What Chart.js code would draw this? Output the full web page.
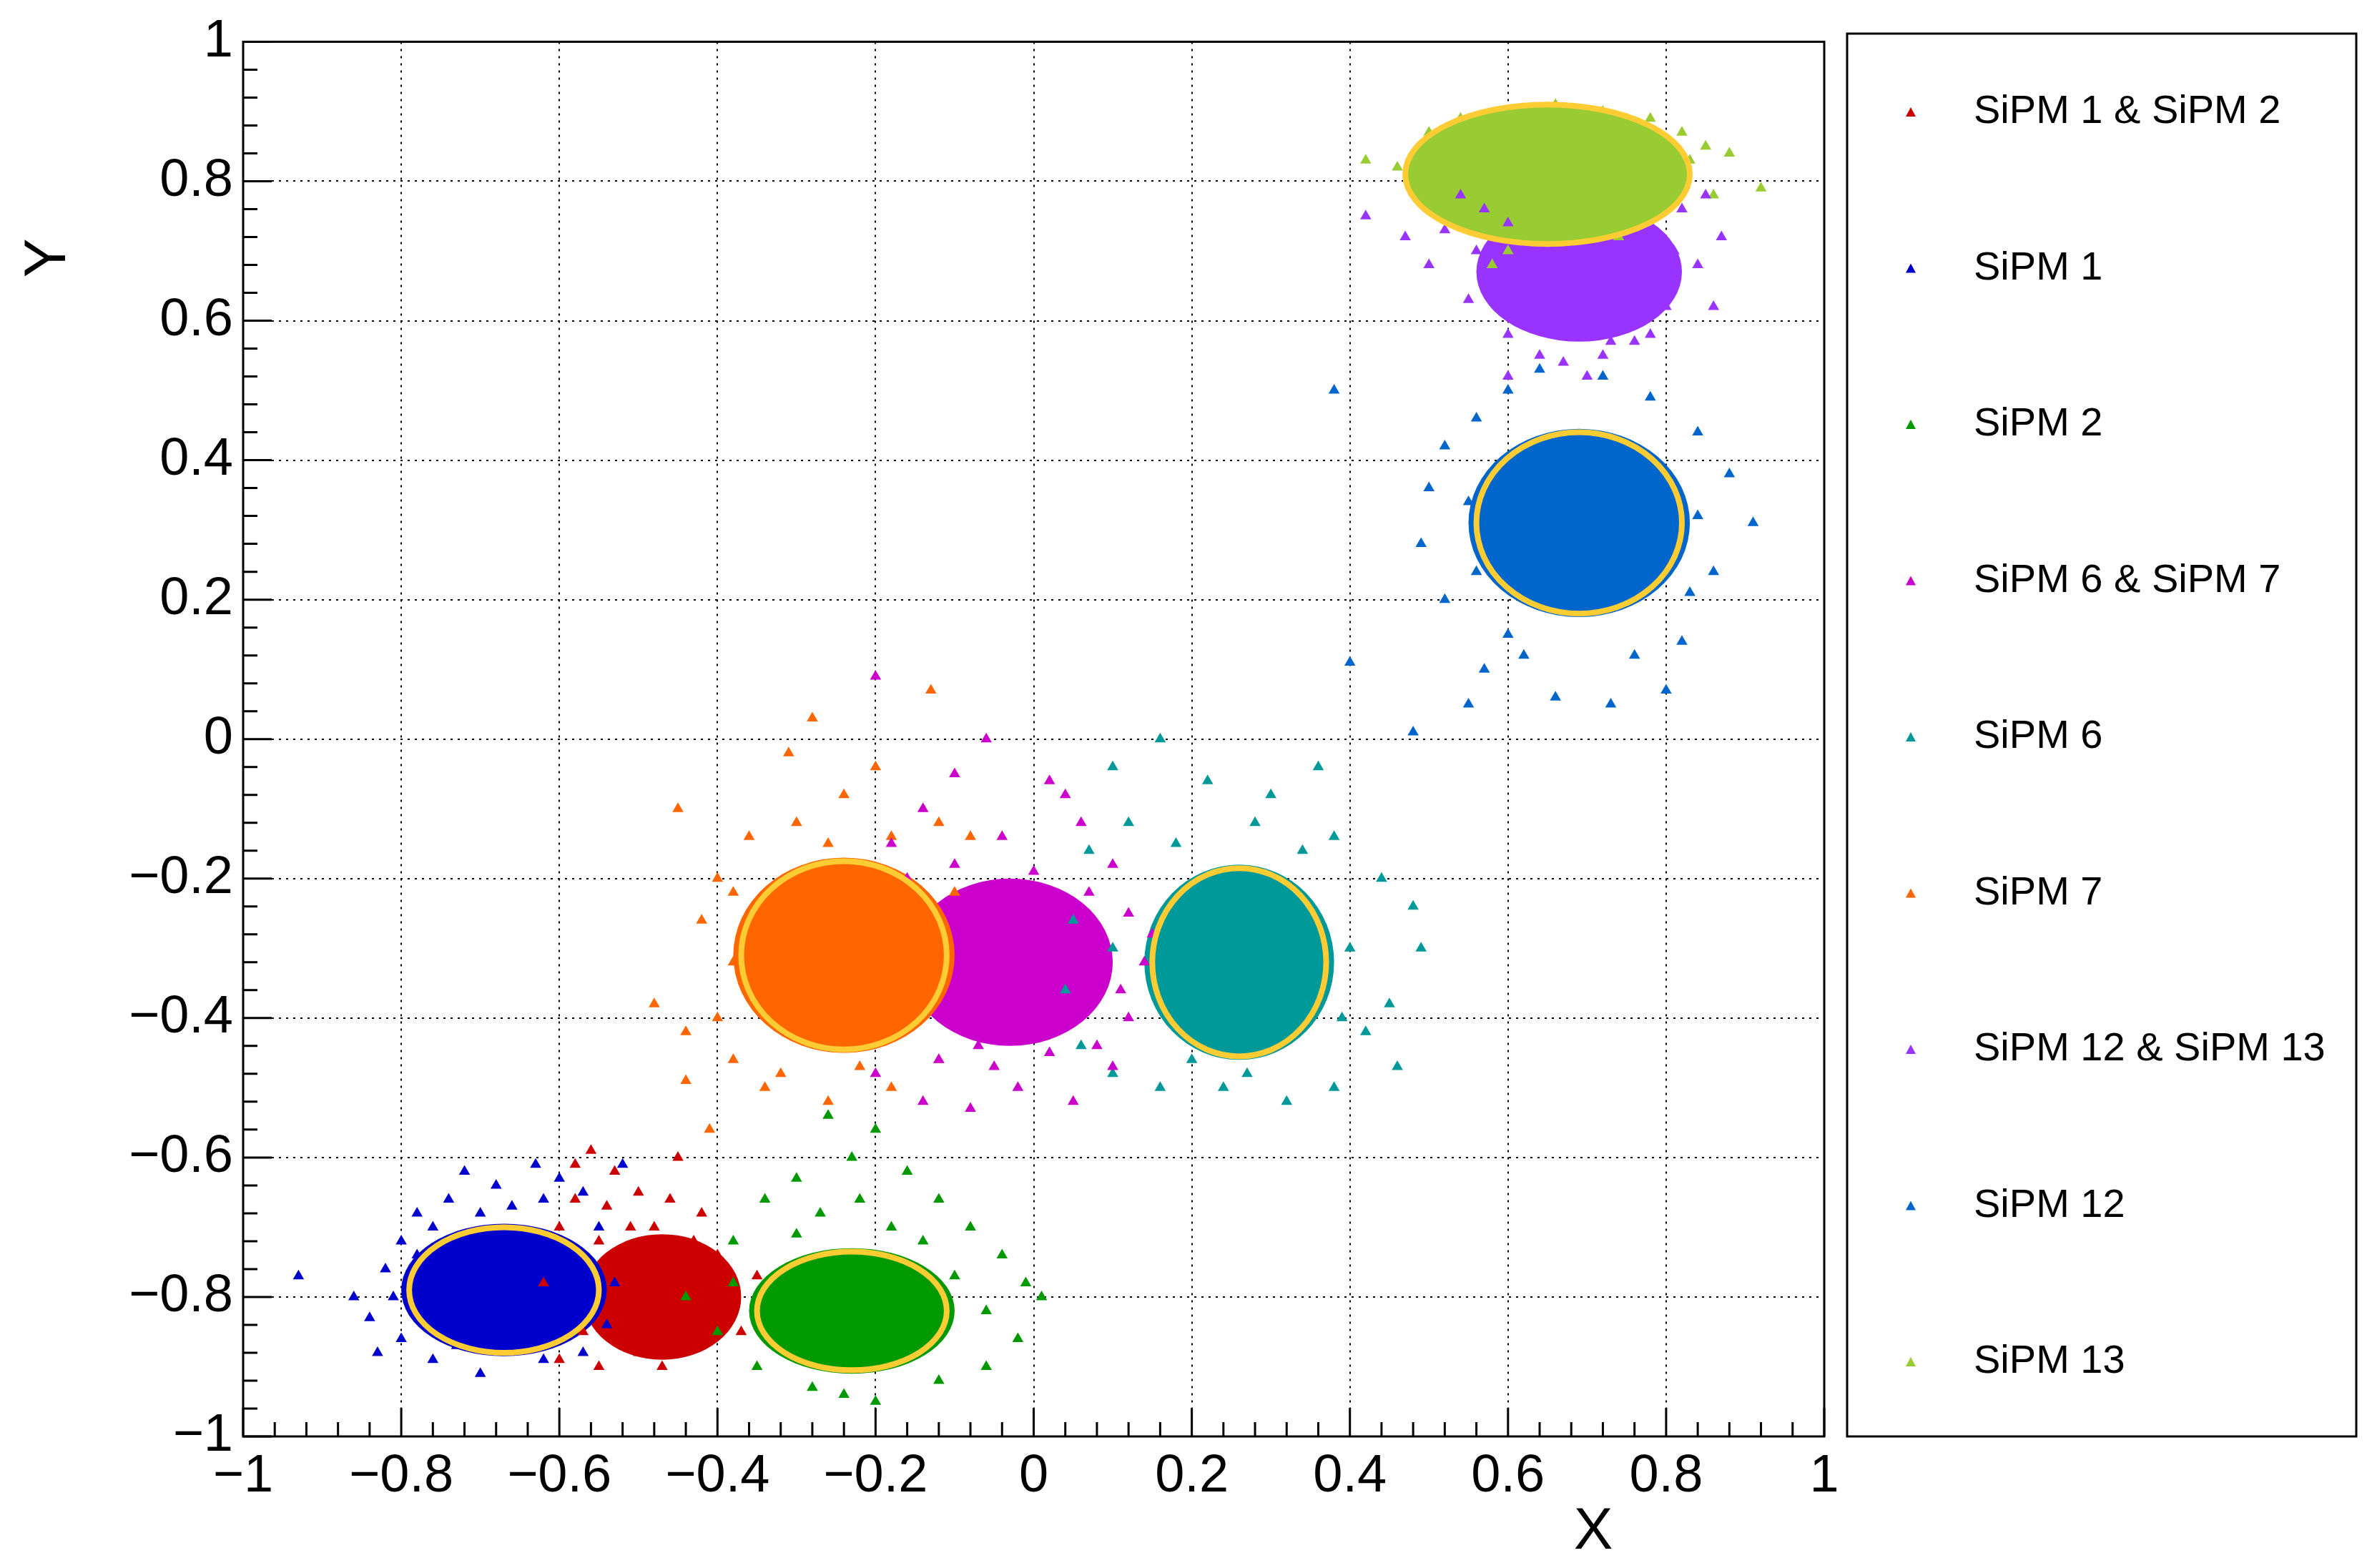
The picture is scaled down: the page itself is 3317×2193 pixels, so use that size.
<!DOCTYPE html>
<html>
<head>
<meta charset="utf-8">
<script src="https://cdn.jsdelivr.net/npm/chart.js@4.4.0/dist/chart.umd.min.js"></script>
<style>
html,body{margin:0;padding:0;background:#fff;}
#wrap{width:3317px;height:2193px;position:relative;}
</style>
</head>
<body>
<div id="wrap"><canvas id="c"></canvas></div>
<script>
const labels = ['SiPM 1 & SiPM 2','SiPM 1','SiPM 2','SiPM 6 & SiPM 7','SiPM 6','SiPM 7','SiPM 12 & SiPM 13','SiPM 12','SiPM 13'];
const colors = ['#cc0000','#0000cc','#009900','#cc00cc','#009999','#ff6600','#9933ff','#0066cc','#99cc33'];

// dense core of each cloud (centre, half widths)
const coreX  = [-0.47,-0.67,-0.23,-0.03, 0.26,-0.24, 0.69, 0.69, 0.65];
const coreY  = [-0.80,-0.79,-0.82,-0.32,-0.32,-0.31, 0.67, 0.31, 0.81];
const coreRX = [ 0.10, 0.13, 0.13, 0.13, 0.12, 0.14, 0.13, 0.14, 0.18];
const coreRY = [ 0.09, 0.095,0.09, 0.12, 0.14, 0.14, 0.10, 0.135,0.10];
// yellow fitted ellipses
const ellX  = [null,-0.67,-0.23,null, 0.26,-0.24,null, 0.69, 0.65];
const ellY  = [null,-0.79,-0.82,null,-0.32,-0.31,null, 0.31, 0.81];
const ellRX = [null, 0.12, 0.12,null, 0.11, 0.13,null, 0.13, 0.18];
const ellRY = [null, 0.09, 0.085,null,0.135,0.135,null,0.13, 0.10];

const pts12 = [[-0.56,-0.59],[-0.53,-0.62],[-0.45,-0.6],[-0.5,-0.65],[-0.58,-0.66],[-0.42,-0.68],[-0.48,-0.7],[-0.55,-0.72],[-0.4,-0.74],[-0.6,-0.7],[-0.44,-0.76],[-0.52,-0.76],[-0.38,-0.8],[-0.57,-0.85],[-0.5,-0.88],[-0.45,-0.87],[-0.6,-0.89],[-0.41,-0.86],[-0.55,-0.9],[-0.47,-0.9],[-0.39,-0.83],[-0.62,-0.78],[-0.35,-0.77],[-0.43,-0.72],[-0.58,-0.61],[-0.54,-0.67],[-0.46,-0.66],[-0.51,-0.7],[-0.4,-0.78],[-0.37,-0.85]];
const pts1 = [[-0.93,-0.77],[-0.86,-0.8],[-0.84,-0.83],[-0.82,-0.76],[-0.8,-0.72],[-0.78,-0.68],[-0.74,-0.66],[-0.72,-0.62],[-0.68,-0.64],[-0.63,-0.61],[-0.6,-0.63],[-0.57,-0.65],[-0.55,-0.7],[-0.53,-0.78],[-0.54,-0.84],[-0.57,-0.88],[-0.62,-0.89],[-0.7,-0.91],[-0.76,-0.89],[-0.8,-0.86],[-0.83,-0.88],[-0.66,-0.67],[-0.52,-0.61],[-0.78,-0.74],[-0.59,-0.82],[-0.76,-0.7],[-0.7,-0.68],[-0.62,-0.66],[-0.81,-0.8],[-0.73,-0.87]];
const pts2 = [[-0.26,-0.54],[-0.2,-0.56],[-0.23,-0.6],[-0.3,-0.63],[-0.16,-0.62],[-0.12,-0.66],[-0.34,-0.66],[-0.38,-0.72],[-0.08,-0.7],[-0.04,-0.74],[-0.01,-0.78],[-0.02,-0.86],[-0.06,-0.9],[-0.12,-0.92],[-0.2,-0.95],[-0.28,-0.93],[-0.35,-0.9],[-0.4,-0.85],[-0.44,-0.8],[-0.38,-0.78],[-0.27,-0.68],[-0.18,-0.7],[-0.1,-0.77],[0.01,-0.8],[-0.24,-0.94],[-0.22,-0.66],[-0.3,-0.71],[-0.14,-0.72],[-0.06,-0.82],[-0.32,-0.87]];
const pts67 = [[-0.2,0.09],[-0.06,0.0],[-0.1,-0.05],[0.02,-0.06],[-0.14,-0.1],[0.06,-0.12],[-0.18,-0.15],[0.1,-0.18],[0.12,-0.25],[0.14,-0.32],[0.12,-0.4],[0.1,-0.47],[0.05,-0.52],[-0.02,-0.5],[-0.08,-0.53],[-0.14,-0.52],[-0.2,-0.48],[-0.04,-0.14],[0.08,-0.44],[-0.12,-0.46],[0.02,-0.45],[-0.07,-0.44],[0.15,-0.28],[-0.16,-0.2],[0.04,-0.08],[-0.1,-0.18],[0.0,-0.19],[0.07,-0.22],[-0.05,-0.47],[0.11,-0.36]];
const pts6 = [[0.1,-0.04],[0.16,0.0],[0.22,-0.06],[0.3,-0.08],[0.36,-0.04],[0.38,-0.14],[0.44,-0.2],[0.48,-0.24],[0.49,-0.3],[0.45,-0.38],[0.42,-0.42],[0.46,-0.47],[0.38,-0.5],[0.32,-0.52],[0.24,-0.5],[0.16,-0.5],[0.1,-0.48],[0.06,-0.44],[0.04,-0.36],[0.05,-0.26],[0.07,-0.16],[0.12,-0.12],[0.28,-0.12],[0.4,-0.3],[0.2,-0.46],[0.18,-0.15],[0.34,-0.16],[0.39,-0.4],[0.1,-0.3],[0.27,-0.48]];
const pts7 = [[-0.28,0.03],[-0.31,-0.02],[-0.2,-0.04],[-0.24,-0.08],[-0.13,0.07],[-0.45,-0.1],[-0.36,-0.14],[-0.12,-0.12],[-0.08,-0.14],[-0.4,-0.2],[-0.42,-0.26],[-0.48,-0.38],[-0.44,-0.42],[-0.44,-0.49],[-0.38,-0.46],[-0.32,-0.48],[-0.26,-0.52],[-0.18,-0.5],[-0.12,-0.46],[-0.3,-0.12],[-0.36,-0.36],[-0.1,-0.22],[-0.41,-0.56],[-0.34,-0.5],[-0.38,-0.32],[-0.26,-0.15],[-0.18,-0.14],[-0.38,-0.22],[-0.4,-0.4],[-0.22,-0.47]];
const pts1213 = [[0.54,0.78],[0.57,0.76],[0.6,0.74],[0.52,0.73],[0.56,0.7],[0.58,0.66],[0.62,0.62],[0.6,0.58],[0.64,0.55],[0.67,0.54],[0.72,0.55],[0.76,0.57],[0.8,0.62],[0.84,0.68],[0.87,0.72],[0.82,0.76],[0.78,0.58],[0.7,0.52],[0.66,0.6],[0.86,0.62],[0.63,0.68],[0.75,0.62],[0.6,0.52],[0.55,0.63],[0.81,0.7],[0.42,0.75],[0.47,0.72],[0.5,0.68],[0.85,0.78],[0.73,0.57]];
const pts12b = [[0.38,0.5],[0.4,0.11],[0.48,0.01],[0.55,0.05],[0.57,0.1],[0.6,0.15],[0.52,0.2],[0.49,0.28],[0.5,0.36],[0.52,0.42],[0.56,0.46],[0.6,0.5],[0.64,0.53],[0.72,0.52],[0.78,0.49],[0.84,0.44],[0.88,0.38],[0.91,0.31],[0.86,0.24],[0.82,0.14],[0.8,0.07],[0.73,0.05],[0.66,0.06],[0.58,0.28],[0.84,0.32],[0.55,0.34],[0.56,0.24],[0.62,0.12],[0.76,0.12],[0.83,0.21]];
const pts13 = [[0.42,0.83],[0.46,0.82],[0.5,0.87],[0.54,0.89],[0.6,0.9],[0.66,0.91],[0.72,0.9],[0.78,0.89],[0.82,0.87],[0.85,0.85],[0.88,0.84],[0.92,0.79],[0.86,0.78],[0.52,0.78],[0.56,0.76],[0.58,0.72],[0.6,0.7],[0.7,0.73],[0.76,0.76],[0.64,0.74],[0.48,0.8],[0.8,0.8],[0.68,0.75],[0.62,0.77],[0.74,0.72],[0.56,0.86],[0.7,0.89],[0.83,0.83],[0.5,0.84],[0.58,0.68]];
const points = [pts12, pts1, pts2, pts67, pts6, pts7, pts1213, pts12b, pts13];

const xTicks = [-1,-0.8,-0.6,-0.4,-0.2,0,0.2,0.4,0.6,0.8,1];
const yTicks = xTicks;

const FONT = 'Liberation Sans, Arial, sans-serif';
const fmt = v => { const s = (Math.round(v*10)/10).toString(); return s.startsWith('-') ? '\u2212' + s.slice(1) : s; };

function ellipse(ctx, xs, ys, x, y, rx, ry) {
  const cx = xs.getPixelForValue(x), cy = ys.getPixelForValue(y);
  const px = Math.abs(xs.getPixelForValue(x + rx) - cx);
  const py = Math.abs(ys.getPixelForValue(y + ry) - cy);
  ctx.beginPath();
  ctx.ellipse(cx, cy, px, py, 0, 0, Math.PI * 2);
}

const framePlugin = {
  id: 'frame',
  beforeDatasetsDraw(chart) {
    const ctx = chart.ctx, xs = chart.scales.x, ys = chart.scales.y;
    ctx.save();
    labels.forEach((l, i) => {
      ellipse(ctx, xs, ys, coreX[i], coreY[i], coreRX[i], coreRY[i]);
      ctx.fillStyle = colors[i]; ctx.fill();
    });
    ctx.restore();
  },
  afterDatasetsDraw(chart) {
    const ctx = chart.ctx, xs = chart.scales.x, ys = chart.scales.y, a = chart.chartArea;
    ctx.save();
    ctx.strokeStyle = '#ffcc33'; ctx.lineWidth = 8;
    labels.forEach((l, i) => {
      if (ellX[i] === null) return;
      ellipse(ctx, xs, ys, ellX[i], ellY[i], ellRX[i], ellRY[i]); ctx.stroke();
    });
    ctx.strokeStyle = '#000'; ctx.lineWidth = 3;
    ctx.strokeRect(a.left, a.top, a.right - a.left, a.bottom - a.top);
    for (let k = 0; k <= 50; k++) {
      const v = -1 + k * 0.04, len = k % 5 === 0 ? 40 : 20;
      const px = xs.getPixelForValue(v), py = ys.getPixelForValue(v);
      ctx.beginPath();
      ctx.moveTo(px, a.bottom); ctx.lineTo(px, a.bottom - len);
      ctx.moveTo(a.left, py); ctx.lineTo(a.left + len, py);
      ctx.stroke();
    }
    // axis titles
    ctx.fillStyle = '#000'; ctx.font = '82px ' + FONT;
    ctx.textAlign = 'center'; ctx.textBaseline = 'middle';
    ctx.fillText('X', 2228, 2143);
    ctx.save(); ctx.translate(68, 361); ctx.rotate(-Math.PI / 2); ctx.fillText('Y', 0, 0); ctx.restore();
    // legend box
    const L = 2583, T = 47, R = 3295, B = 2009;
    ctx.strokeRect(L, T, R - L, B - T);
    ctx.font = '56px ' + FONT; ctx.textAlign = 'left';
    labels.forEach((l, i) => {
      const y = 157 + i * 218.5;
      ctx.fillStyle = colors[i];
      ctx.beginPath(); ctx.moveTo(2672, y - 7); ctx.lineTo(2679, y + 6); ctx.lineTo(2665, y + 6); ctx.closePath(); ctx.fill();
      ctx.fillStyle = '#000';
      ctx.fillText(l, 2760, y);
    });
    ctx.restore();
  }
};

new Chart(document.getElementById('c'), {
  type: 'scatter',
  data: {
    datasets: labels.map((l, i) => ({
      label: l,
      data: points[i].map(p => ({ x: p[0], y: p[1] })),
      backgroundColor: colors[i],
      borderWidth: 0,
      pointStyle: 'triangle',
      pointRadius: 9
    }))
  },
  options: {
    responsive: true,
    maintainAspectRatio: false,
    animation: false,
    devicePixelRatio: 1,
    layout: { padding: { top: 47, right: 766, left: 0, bottom: 0 } },
    plugins: { legend: { display: false }, tooltip: { enabled: false } },
    scales: {
      x: {
        type: 'linear', min: -1, max: 1,
        afterBuildTicks: s => { s.ticks = xTicks.map(v => ({ value: v })); },
        afterFit: s => { s.height = 184; },
        border: { display: false, dash: [3, 7] },
        grid: { color: '#000', lineWidth: 2, drawTicks: false },
        ticks: { callback: v => fmt(v), font: { family: FONT, size: 74 }, color: '#000', padding: 12, maxRotation: 0 }
      },
      y: {
        type: 'linear', min: -1, max: 1,
        afterBuildTicks: s => { s.ticks = yTicks.map(v => ({ value: v })); },
        afterFit: s => { s.width = 340; },
        border: { display: false, dash: [3, 7] },
        grid: { color: '#000', lineWidth: 2, drawTicks: false },
        ticks: { callback: v => fmt(v), font: { family: FONT, size: 74 }, color: '#000', padding: 14 }
      }
    }
  },
  plugins: [framePlugin]
});
</script>
</body>
</html>
